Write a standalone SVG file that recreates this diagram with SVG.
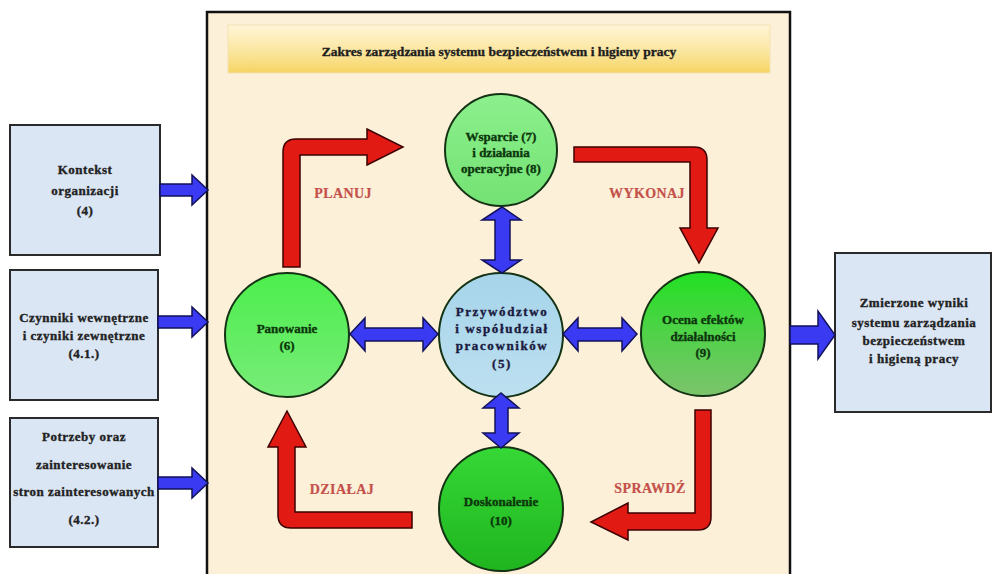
<svg xmlns="http://www.w3.org/2000/svg" width="998" height="574" viewBox="0 0 998 574">
  <defs>
    <linearGradient id="gTitle" x1="0" y1="0" x2="0" y2="1">
      <stop offset="0" stop-color="#fef5d6"/>
      <stop offset="0.55" stop-color="#fbe6a0"/>
      <stop offset="1" stop-color="#f6d462"/>
    </linearGradient>
    <linearGradient id="gTop" x1="0" y1="0" x2="0" y2="1">
      <stop offset="0" stop-color="#8cf08c"/>
      <stop offset="1" stop-color="#74e274"/>
    </linearGradient>
    <linearGradient id="gLeft" x1="0" y1="0" x2="0" y2="1">
      <stop offset="0" stop-color="#4cee4c"/>
      <stop offset="1" stop-color="#78ec78"/>
    </linearGradient>
    <linearGradient id="gRight" x1="0" y1="0" x2="0" y2="1">
      <stop offset="0" stop-color="#22e022"/>
      <stop offset="0.55" stop-color="#55d04d"/>
      <stop offset="1" stop-color="#7cc46c"/>
    </linearGradient>
    <linearGradient id="gBottom" x1="0" y1="0" x2="0" y2="1">
      <stop offset="0" stop-color="#36d836"/>
      <stop offset="1" stop-color="#1fb51f"/>
    </linearGradient>
    <linearGradient id="gCenter" x1="0" y1="0" x2="0" y2="1">
      <stop offset="0" stop-color="#a6d4ea"/>
      <stop offset="1" stop-color="#bde0f0"/>
    </linearGradient>
  </defs>
  <style>
    .t { font-family: "Liberation Serif", "Times New Roman", serif; font-weight: bold; text-anchor: middle; stroke-width: 0.35px; }
    .box { fill: #dbe6f4; stroke: #2a2a2a; stroke-width: 2; }
    .boxtxt { font-size: 13px; fill: #222; stroke: #222; letter-spacing: 0.5px; }
    .circ { stroke: #143214; stroke-width: 2; }
    .gtxt { font-size: 13px; fill: #0c360c; stroke: #0c360c; }
    .ctxt { font-size: 13px; fill: #1a1a40; stroke: #1a1a40; letter-spacing: 1.6px; }
    .blue { fill: #3a3af2; stroke: #12125a; stroke-width: 1.5; stroke-linejoin: miter; }
    .red { fill: #e21a14; stroke: #3c0000; stroke-width: 1.5; stroke-linejoin: miter; }
    .lbl { font-size: 14px; fill: #c4504a; stroke: #c4504a; stroke-width: 0.2px; letter-spacing: 0.4px; }
  </style>

  <rect x="0" y="0" width="998" height="574" fill="#ffffff"/>

  <!-- central scope panel -->
  <g id="panel">
    <rect x="207" y="12" width="583" height="580" fill="#fdf0d8" stroke="#111" stroke-width="2.5"/>
    <rect x="228" y="25" width="542" height="48" fill="url(#gTitle)" stroke="#f2e2b4" stroke-width="1"/>
    <text class="t" x="499" y="56" font-size="13.5" fill="#1e1e1e" stroke="#1e1e1e">Zakres zarządzania systemu  bezpieczeństwem i higieny pracy</text>
  </g>

  <!-- input boxes -->
  <g id="kontekst">
    <rect class="box" x="10" y="125" width="150" height="130"/>
    <text class="t boxtxt" x="85" y="174">Kontekst</text>
    <text class="t boxtxt" x="85" y="195">organizacji</text>
    <text class="t boxtxt" x="85" y="215">(4)</text>
  </g>
  <g id="czynniki">
    <rect class="box" x="10" y="270" width="148" height="130"/>
    <text class="t boxtxt" x="84" y="322">Czynniki  wewnętrzne</text>
    <text class="t boxtxt" x="84" y="340">i czyniki zewnętrzne</text>
    <text class="t boxtxt" x="84" y="358">(4.1.)</text>
  </g>
  <g id="potrzeby">
    <rect class="box" x="10" y="418" width="148" height="129"/>
    <text class="t boxtxt" x="84" y="441">Potrzeby oraz</text>
    <text class="t boxtxt" x="84" y="469">zainteresowanie</text>
    <text class="t boxtxt" x="84" y="496">stron zainteresowanych</text>
    <text class="t boxtxt" x="84" y="524">(4.2.)</text>
  </g>

  <!-- output box -->
  <g id="wyniki">
    <rect class="box" x="835" y="253" width="156" height="159"/>
    <text class="t boxtxt" x="914" y="307">Zmierzone wyniki</text>
    <text class="t boxtxt" x="914" y="327">systemu zarządzania</text>
    <text class="t boxtxt" x="914" y="345">bezpieczeństwem</text>
    <text class="t boxtxt" x="914" y="363">i higieną pracy</text>
  </g>

  <!-- process circles -->
  <g id="wsparcie">
    <circle class="circ" cx="501" cy="150" r="56" fill="url(#gTop)"/>
    <text class="t gtxt" x="501" y="141">Wsparcie (7)</text>
    <text class="t gtxt" x="501" y="157">i działania</text>
    <text class="t gtxt" x="501" y="173">operacyjne (8)</text>
  </g>
  <g id="panowanie">
    <circle class="circ" cx="287" cy="335" r="62" fill="url(#gLeft)"/>
    <text class="t gtxt" x="287" y="333">Panowanie</text>
    <text class="t gtxt" x="287" y="350">(6)</text>
  </g>
  <g id="przywodztwo">
    <circle class="circ" cx="501" cy="335" r="62" fill="url(#gCenter)"/>
    <text class="t ctxt" x="502" y="316">Przywództwo</text>
    <text class="t ctxt" x="502" y="333">i współudział</text>
    <text class="t ctxt" x="502" y="350">pracowników</text>
    <text class="t ctxt" x="502" y="368">(5)</text>
  </g>
  <g id="ocena">
    <circle class="circ" cx="703" cy="334" r="62" fill="url(#gRight)"/>
    <text class="t gtxt" x="703" y="324">Ocena efektów</text>
    <text class="t gtxt" x="703" y="341">działalności</text>
    <text class="t gtxt" x="703" y="357">(9)</text>
  </g>
  <g id="doskonalenie">
    <circle class="circ" cx="501" cy="509" r="62" fill="url(#gBottom)"/>
    <text class="t gtxt" x="501" y="506" font-size="14">Doskonalenie</text>
    <text class="t gtxt" x="501" y="525" font-size="14">(10)</text>
  </g>

  <!-- connectors -->
  <g id="connectors">
    <!-- inputs into the panel -->
    <path class="blue" d="M160,184 L192,184 L192,175 L208,190 L192,205 L192,196 L160,196 Z"/>
    <path class="blue" d="M158,316 L192,316 L192,307 L208,322 L192,337 L192,328 L158,328 Z"/>
    <path class="blue" d="M158,477 L192,477 L192,468 L208,483 L192,498 L192,489 L158,489 Z"/>
    <!-- output from the panel -->
    <path class="blue" d="M790,326 L818,326 L818,311 L835,335 L818,359 L818,344 L790,344 Z"/>

    <!-- two-way links around the centre -->
    <path class="blue" d="M495,220 L482,220 L502,207 L521,220 L510,220 L510,260 L521,260 L502,273 L482,260 L495,260 Z"/>
    <path class="blue" d="M495,408 L483,408 L501,393 L519,408 L508,408 L508,433 L519,433 L501,448 L483,433 L495,433 Z"/>
    <path class="blue" d="M350,334 L365,318 L365,328 L423,328 L423,318 L438,334 L423,351 L423,341 L365,341 L365,351 Z"/>
    <path class="blue" d="M563,334 L578,318 L578,328 L622,328 L622,318 L637,334 L622,351 L622,341 L578,341 L578,351 Z"/>

    <!-- PDCA cycle -->
    <path class="red" d="M283,267 L283,152 Q283,139 296,139 L367,139 L367,129 L403,147 L367,165 L367,155 L300,155 L300,267 Z"/>
    <path class="red" d="M574,147 L694,147 Q707,147 707,160 L707,228 L718,228 L699,263 L680,228 L690,228 L690,162 L574,162 Z"/>
    <path class="red" d="M695,410 L711,410 L711,517 Q711,530 698,530 L628,530 L628,540 L591,522 L628,503 L628,513 L695,513 Z"/>
    <path class="red" d="M412,512 L412,528 L291,528 Q278,528 278,515 L278,447 L268,447 L287,411 L306,447 L295,447 L295,512 Z"/>

    <text class="t lbl" x="343" y="198">PLANUJ</text>
    <text class="t lbl" x="647" y="198">WYKONAJ</text>
    <text class="t lbl" x="650" y="493">SPRAWDŹ</text>
    <text class="t lbl" x="342" y="494">DZIAŁAJ</text>
  </g>
</svg>
